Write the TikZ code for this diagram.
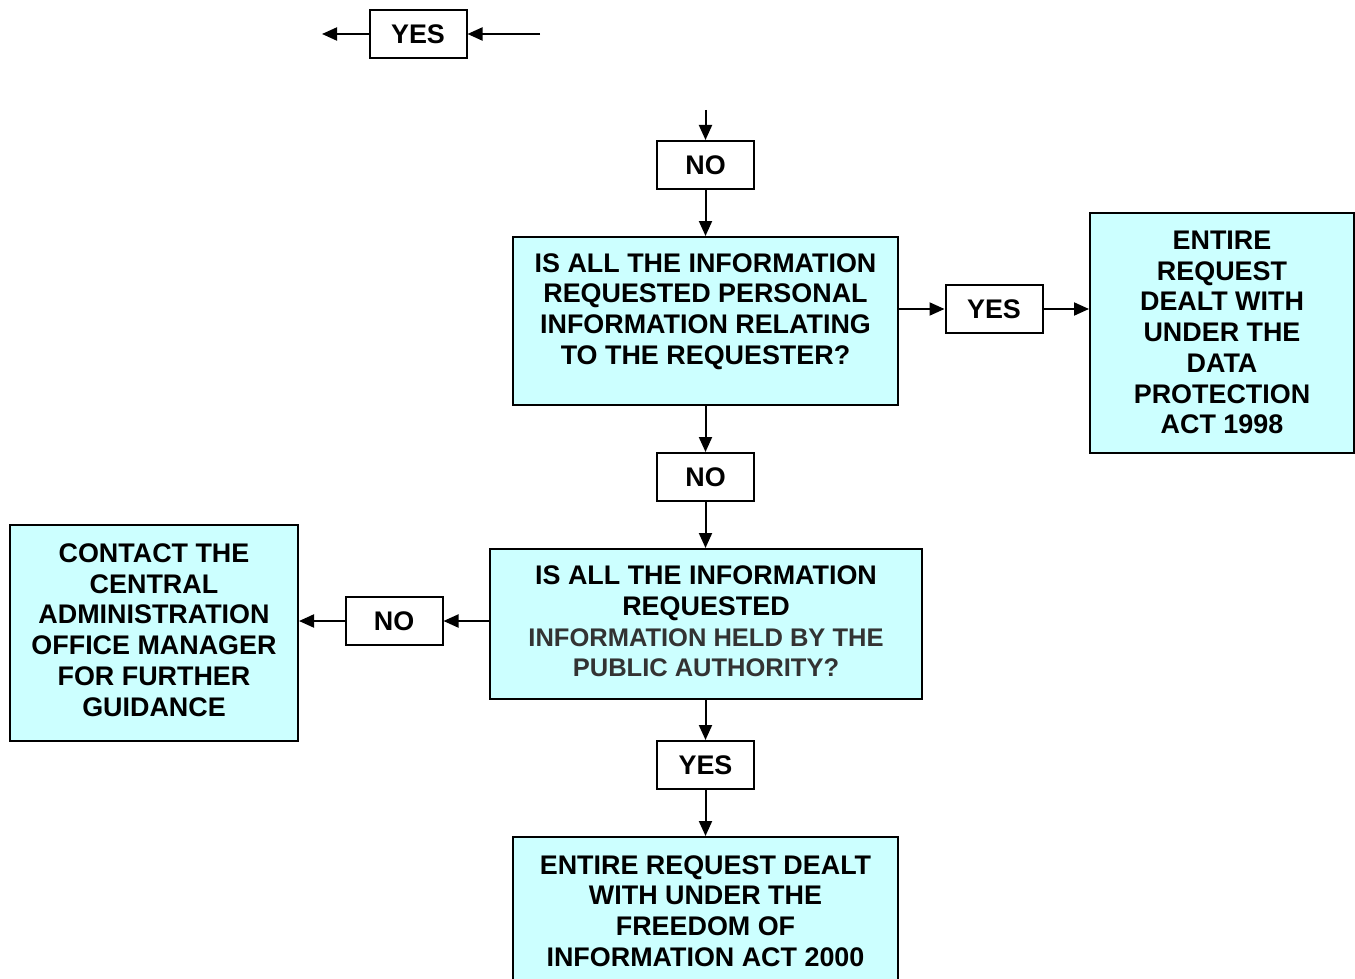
\documentclass[tikz,border=0pt]{standalone}
\usepackage{fontspec}
\setmainfont{Liberation Sans}
\usetikzlibrary{arrows.meta}
\definecolor{boxfill}{HTML}{CCFFFF}
\definecolor{darktext}{HTML}{333333}
\newcommand{\graysize}{\fontsize{25.5}{30.7}\selectfont}
\begin{document}
\begin{tikzpicture}[x=1pt,y=-1pt,
 every node/.style={font=\fontsize{26.9}{30.7}\selectfont\bfseries},
 lbl/.style={draw, line width=2pt, fill=white, minimum width=97pt, minimum height=48pt, inner sep=0pt},
 bigbox/.style={draw, line width=2pt, fill=boxfill, inner sep=0pt},
 txt/.style={align=center, inner sep=0pt},
 arr/.style={line width=2pt, -{Triangle[length=15pt,width=13pt]}}]
\useasboundingbox (0,0) rectangle (1355,979);
\clip (0,0) rectangle (1355,979);

% top YES
\node[lbl] (yes0) at (418,34) {YES};
\coordinate (in0) at (540,34);
\coordinate (out0) at (322,34);
\draw[arr] (in0) -- (yes0.east);
\draw[arr] (yes0.west) -- (out0);

% first NO
\node[lbl] (no1) at (705.5,165) {NO};
\coordinate (top1) at (705.5,110);
\draw[arr] (top1) -- (no1.north);

% question 1
\node[bigbox, minimum width=385pt, minimum height=168pt] (q1) at (705.5,321) {};
\node[txt] (q1t) at (705.5,311.5) {IS ALL THE INFORMATION\\REQUESTED PERSONAL\\INFORMATION RELATING\\TO THE REQUESTER?};
\draw[arr] (no1.south) -- (q1.north);

% YES right
\node[lbl] (yesr) at (994,309) {YES};
\draw[arr] (q1.east |- yesr) -- (yesr.west);

% Data Protection box
\node[bigbox, minimum width=264pt, minimum height=240pt] (dp) at (1222,333) {};
\node[txt] (dpt) at (1222,332.5) {ENTIRE\\REQUEST\\DEALT WITH\\UNDER THE\\DATA\\PROTECTION\\ACT 1998};
\draw[arr] (yesr.east) -- (dp.west |- yesr);

% second NO
\node[lbl] (no2) at (705.5,477) {NO};
\draw[arr] (q1.south) -- (no2.north);

% question 2
\node[bigbox, minimum width=432pt, minimum height=150pt] (q2) at (706,624) {};
\node[txt] (q2t) at (706,621.5) {IS ALL THE INFORMATION\\REQUESTED\\{\graysize\color{darktext}INFORMATION HELD BY THE}\\{\graysize\color{darktext}PUBLIC AUTHORITY?}};
\draw[arr] (no2.south) -- (q2.north -| no2.south);

% NO left
\node[lbl] (no3) at (394,621) {NO};
\draw[arr] (q2.west |- no3) -- (no3.east);

% contact box
\node[bigbox, minimum width=288pt, minimum height=216pt] (ct) at (154,633) {};
\node[txt] (ctt) at (154,630) {CONTACT THE\\CENTRAL\\ADMINISTRATION\\OFFICE MANAGER\\FOR FURTHER\\GUIDANCE};
\draw[arr] (no3.west) -- (ct.east |- no3);

% YES bottom
\node[lbl] (yes3) at (705.5,765) {YES};
\draw[arr] (q2.south -| yes3) -- (yes3.north);

% FOI box
\node[bigbox, minimum width=385pt, minimum height=180pt] (foi) at (705.5,927) {};
\node[txt] (foit) at (705.5,911) {ENTIRE REQUEST DEALT\\WITH UNDER THE\\FREEDOM OF\\INFORMATION ACT 2000};
\draw[arr] (yes3.south) -- (foi.north);
\end{tikzpicture}
\end{document}
